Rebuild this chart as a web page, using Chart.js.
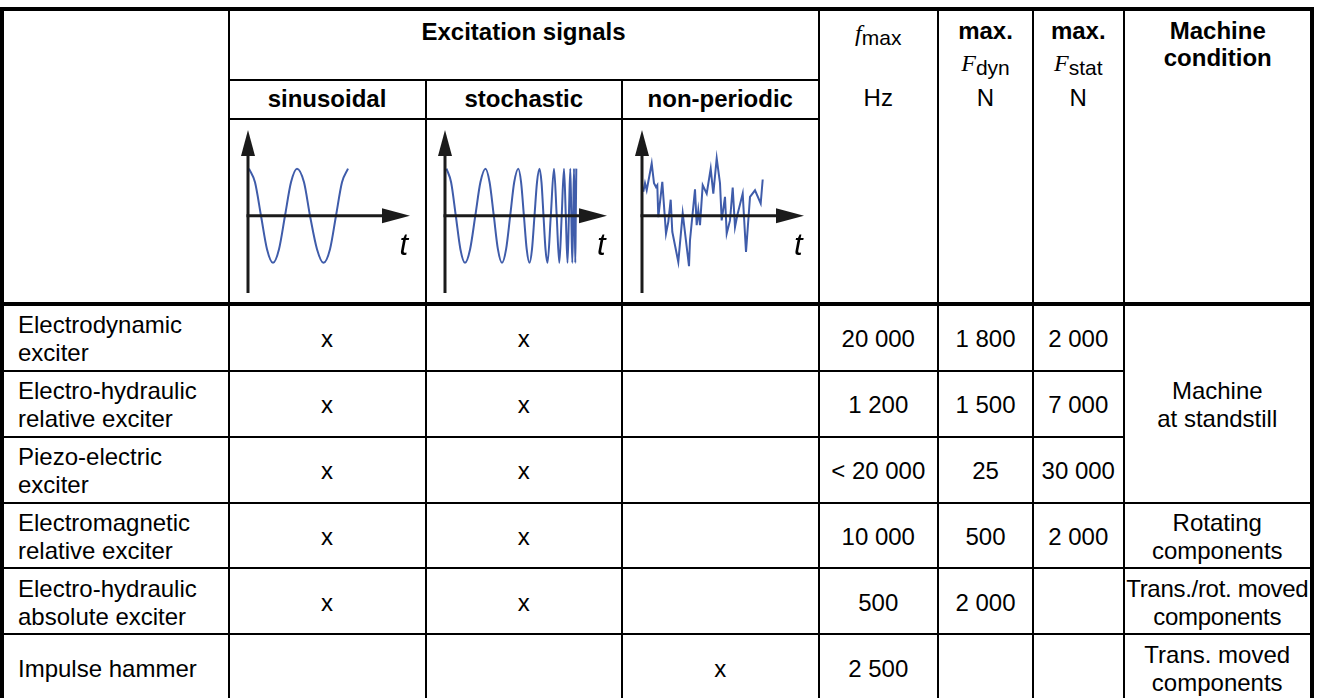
<!DOCTYPE html>
<html>
<head>
<meta charset="utf-8">
<script src="https://cdn.jsdelivr.net/npm/chart.js@4/dist/chart.umd.min.js"></script>
<style>
html,body{margin:0;padding:0;background:#fff;}
body{width:1323px;height:698px;position:relative;overflow:hidden;font-family:"Liberation Sans",Arial,sans-serif;font-size:24px;color:#000;}
.ln{position:absolute;background:#000;z-index:5;}
.c{position:absolute;display:flex;align-items:center;justify-content:center;text-align:center;line-height:28px;white-space:nowrap;z-index:3;}
.lab{justify-content:flex-start;text-align:left;}
.b{font-weight:bold;}
.sig{position:absolute;z-index:2;}
.tl{position:absolute;font-style:italic;font-size:31px;line-height:31px;z-index:4;}
.ser{font-family:"Liberation Serif","Times New Roman",serif;font-style:italic;}
.sub{font-size:21px;position:relative;top:5px;}
</style>
</head>
<body>
<script>
// ---------------- data ----------------
const signalTypes = ["sinusoidal", "stochastic", "non-periodic"];
const exciters = [
  "Electrodynamic\nexciter",
  "Electro-hydraulic\nrelative exciter",
  "Piezo-electric\nexciter",
  "Electromagnetic\nrelative exciter",
  "Electro-hydraulic\nabsolute exciter",
  "Impulse hammer"
];
const sinusoidalMarks  = ["x", "x", "x", "x", "x", ""];
const stochasticMarks  = ["x", "x", "x", "x", "x", ""];
const nonPeriodicMarks = ["", "", "", "", "", "x"];
const fMaxHz    = ["20 000", "1 200", "< 20 000", "10 000", "500", "2 500"];
const fDynMaxN  = ["1 800", "1 500", "25", "500", "2 000", ""];
const fStatMaxN = ["2 000", "7 000", "30 000", "2 000", "", ""];
const machineConditions = ["Machine\nat standstill", "Rotating\ncomponents", "Trans./rot. moved\ncomponents", "Trans. moved\ncomponents"];
const machineConditionRowSpans = [3, 1, 1, 1];

// signal sketches (time offset from the vertical axis, amplitude)
const sineT = [1, 7, 13, 19, 25, 31, 37, 43, 49, 56, 62, 69, 75.5, 82, 88, 94, 100];
const sineA = [1, 0.71, 0, -0.71, -1, -0.71, 0, 0.71, 1, 0.71, 0, -0.71, -1, -0.71, 0, 0.71, 1];

const chirpT = [1.5, 6.1, 10.8, 15.4, 20, 25.1, 30.3, 35.4, 40.5, 44.6, 48.8, 52.9, 57, 61.1, 65.2, 69.2, 73.3,
  76.1, 78.9, 81.7, 84.5, 87, 89.5, 92, 94.5, 96.5, 98.5, 100.5, 102.5, 105.8, 109, 111.7, 114.3, 116.7, 119,
  120.8, 122.5, 123.9, 125.3, 126.3, 127.3, 128.2, 129, 129.7, 130.3, 130.8, 131.3];
const chirpA = [1, 0.71, 0, -0.71, -1, -0.71, 0, 0.71, 1, 0.71, 0, -0.71, -1, -0.71, 0, 0.71, 1,
  0.71, 0, -0.71, -1, -0.71, 0, 0.71, 1, 0.71, 0, -0.71, -1, 0, 1, 0, -1, 0, 1,
  0, -1, 0, 1, 0, -1, 0, 1, 0, -1, 0, 1];

const noiseT = [1.3, 3, 4.7, 9.7, 12, 14, 15.3, 16.3, 20.3, 24, 26.3, 28.7, 30.3, 36.3, 40.7, 47, 48, 53, 54.7, 56.3,
  58, 60.7, 64.7, 68.7, 71.3, 74.7, 78, 79.7, 83, 84.7, 88, 90.7, 93, 95.3, 100.7, 104, 108, 113, 118.7, 120.7];
const noiseA = [0.51, 0.69, 0.54, 1.11, 0.69, 0.61, 0.65, -0.03, 0.72, -0.38, -0.13, 0.34, -0.34, -0.98, 0.05, -1.07, -0.52, 0.56, -0.2, 0.12,
  -0.2, 0.65, 0.47, 1.0, 0.47, 1.22, 0.69, -0.1, 0.4, -0.38, -0.1, 0.6, -0.24, 0.01, 0.47, -0.77, 0.4, 0.54, 0.26, 0.77];

// ---------------- layout ----------------
const colX = [1.5, 228.5, 425.5, 622, 818.5, 938, 1033, 1123.5, 1312];
const rowY = [304, 370.5, 436.5, 502.5, 568, 634, 700];
const body = document.body;

function line(x, y, w, h) {
  const d = document.createElement('div');
  d.className = 'ln';
  d.style.left = x + 'px'; d.style.top = y + 'px';
  d.style.width = w + 'px'; d.style.height = h + 'px';
  body.appendChild(d);
}
function hl(x0, x1, yc, t) { line(x0, yc - t / 2, x1 - x0, t); }
function vl(xc, y0, y1, t) { line(xc - t / 2, y0, t, y1 - y0); }

function cell(x0, x1, y0, y1, html, cls) {
  const d = document.createElement('div');
  d.className = 'c' + (cls ? ' ' + cls : '');
  d.style.left = x0 + 'px'; d.style.top = y0 + 'px';
  d.style.width = (x1 - x0) + 'px'; d.style.height = (y1 - y0) + 'px';
  d.innerHTML = html;
  body.appendChild(d);
  return d;
}
function textAt(cx, cy, html, cls, w) {
  w = w || 180;
  return cell(cx - w / 2, cx + w / 2, cy - 14, cy + 14, html, cls);
}
const esc = s => s.replace(/&/g, '&amp;').replace(/</g, '&lt;').replace(/\n/g, '<br>');
const mid = (a, b) => (a + b) / 2;

// grid lines
hl(0, 1314, 9, 4);
hl(colX[1], colX[4], 79.5, 2);
hl(colX[1], colX[4], 119, 2);
hl(0, 1314, 304, 4);
hl(0, colX[7], rowY[1], 2);
hl(0, colX[7], rowY[2], 2);
hl(0, 1314, rowY[3], 2);
hl(0, 1314, rowY[4], 2);
hl(0, 1314, rowY[5], 2);
hl(0, 1314, 701, 4);
vl(2, 7, 703, 4);
vl(1312, 7, 703, 4);
vl(colX[1], 9, 703, 2);
vl(colX[2], 79.5, 703, 2);
vl(colX[3], 79.5, 703, 2);
for (const i of [4, 5, 6, 7]) vl(colX[i], 9, 703, 2);

// header text
textAt(mid(colX[1], colX[4]), 32, 'Excitation signals', 'b', 400);
signalTypes.forEach((s, i) => textAt(mid(colX[1 + i], colX[2 + i]), 99, esc(s), 'b'));
textAt(mid(colX[4], colX[5]), 33, '<span class="ser">f</span><span class="sub">max</span>', '', 118);
textAt(mid(colX[4], colX[5]), 98, 'Hz', '', 118);
textAt(mid(colX[5], colX[6]), 31, 'max.', 'b', 92);
textAt(mid(colX[5], colX[6]), 63, '<span class="ser">F</span><span class="sub">dyn</span>', '', 92);
textAt(mid(colX[5], colX[6]), 98, 'N', '', 92);
textAt(mid(colX[6], colX[7]), 31, 'max.', 'b', 88);
textAt(mid(colX[6], colX[7]), 63, '<span class="ser">F</span><span class="sub">stat</span>', '', 88);
textAt(mid(colX[6], colX[7]), 98, 'N', '', 88);
textAt(mid(colX[7], colX[8]), 31, 'Machine', 'b', 186);
textAt(mid(colX[7], colX[8]), 58, 'condition', 'b', 186);

// body rows
exciters.forEach((name, r) => {
  const y0 = rowY[r] + 1, y1 = rowY[r + 1] + 2;
  const lab = cell(18, colX[1] - 2, y0, y1, esc(name), 'lab');
  cell(colX[1], colX[2], y0, y1, esc(sinusoidalMarks[r]));
  cell(colX[2], colX[3], y0, y1, esc(stochasticMarks[r]));
  cell(colX[3], colX[4], y0, y1, esc(nonPeriodicMarks[r]));
  cell(colX[4], colX[5], y0, y1, esc(fMaxHz[r]));
  cell(colX[5], colX[6], y0, y1, esc(fDynMaxN[r]));
  cell(colX[6], colX[7], y0, y1, esc(fStatMaxN[r]));
});
let rr = 0;
machineConditions.forEach((m, i) => {
  const span = machineConditionRowSpans[i];
  const d = cell(colX[7] + 1, colX[8] - 2, rowY[rr] + 1, rowY[rr + span] + 2, esc(m));
  if (m.indexOf('Trans./rot.') === 0) d.style.letterSpacing = '-0.3px';
  rr += span;
});

// ---------------- signal sketches with Chart.js ----------------
const axisArrows = {
  id: 'axisArrows',
  afterDatasetsDraw(chart) {
    const { ctx, chartArea: a, scales } = chart;
    const x0 = scales.x.getPixelForValue(0);
    const y0 = scales.y.getPixelForValue(0);
    ctx.save();
    ctx.strokeStyle = '#1b1b1b';
    ctx.fillStyle = '#1b1b1b';
    ctx.lineWidth = 3;
    ctx.beginPath(); ctx.moveTo(x0, a.bottom); ctx.lineTo(x0, a.top + 20); ctx.stroke();
    ctx.beginPath(); ctx.moveTo(x0, a.top); ctx.lineTo(x0 - 7, a.top + 26); ctx.lineTo(x0 + 7, a.top + 26); ctx.closePath(); ctx.fill();
    ctx.beginPath(); ctx.moveTo(x0 - 1.5, y0); ctx.lineTo(a.right - 20, y0); ctx.stroke();
    ctx.beginPath(); ctx.moveTo(a.right, y0); ctx.lineTo(a.right - 28, y0 - 7.5); ctx.lineTo(a.right - 28, y0 + 7.5); ctx.closePath(); ctx.fill();
    ctx.restore();
  }
};

const sketches = [
  { axisX: 247.5, t: sineT, a: sineA, smooth: true },
  { axisX: 445, t: chirpT, a: chirpA, smooth: true },
  { axisX: 642, t: noiseT, a: noiseA, smooth: false }
];
sketches.forEach(s => {
  const wrap = document.createElement('div');
  wrap.className = 'sig';
  wrap.style.left = (s.axisX - 20) + 'px';
  wrap.style.top = '121px';
  wrap.style.width = '200px';
  wrap.style.height = '181px';
  const cv = document.createElement('canvas');
  cv.width = 200; cv.height = 181;
  cv.style.width = '200px'; cv.style.height = '181px';
  wrap.appendChild(cv);
  body.appendChild(wrap);

  const tl = document.createElement('div');
  tl.className = 'tl';
  tl.textContent = 't';
  tl.style.left = (s.axisX + 152) + 'px';
  tl.style.top = '229px';
  body.appendChild(tl);

  new Chart(cv, {
    type: 'line',
    data: {
      datasets: [{
        data: s.t.map((t, i) => ({ x: t, y: s.a[i] })),
        borderColor: '#3f5caa',
        borderWidth: 2,
        pointRadius: 0,
        fill: false,
        cubicInterpolationMode: s.smooth ? 'monotone' : 'default',
        tension: 0
      }]
    },
    options: {
      responsive: false,
      animation: false,
      events: [],
      layout: { padding: { left: 20, right: 18, top: 9, bottom: 9 } },
      plugins: { legend: { display: false }, tooltip: { enabled: false } },
      scales: {
        x: { type: 'linear', min: 0, max: 162, display: false },
        y: { type: 'linear', min: -1.64, max: 1.82, display: false }
      }
    },
    plugins: [axisArrows]
  });
});
</script>
</body>
</html>
